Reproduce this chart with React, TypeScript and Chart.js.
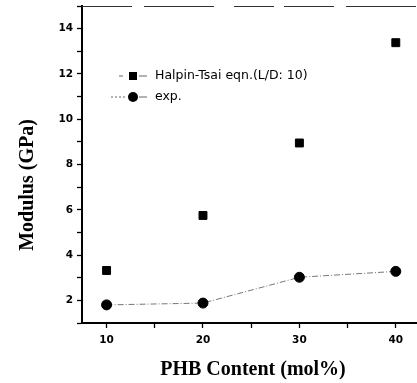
import React, { useEffect, useRef } from "react";
import { Chart, registerables } from "chart.js";

Chart.register(...registerables);

const phbContent = [10, 20, 30, 40];
const halpinTsai = [3.32, 5.75, 8.95, 13.38];
const experimental = [1.8, 1.88, 3.02, 3.28];
const seriesLabels = ["Halpin-Tsai eqn.(L/D: 10)", "exp."];
const xAxisTitle = "PHB Content (mol%)";
const yAxisTitle = "Modulus (GPa)";
const xTickValues = [10, 15, 20, 25, 30, 35, 40];
const xLabelEvery = 10;
const yLabelEvery = 2;
const X_MIN = 7.45;
const X_MAX = 42.2;

const TICK_FONT = { family: "'DejaVu Sans', sans-serif", size: 10.5, weight: "bold" as const };
const TITLE_FONT = "bold 20px 'Liberation Serif', 'Times New Roman', serif";
const LEGEND_FONT = "12.5px 'DejaVu Sans', sans-serif";

const decorPlugin = {
  id: "decor",
  beforeDatasetsDraw(chart: any) {
    const { ctx, chartArea } = chart;
    ctx.save();
    // faint broken top frame
    ctx.strokeStyle = "#333";
    ctx.lineWidth = 1.2;
    ctx.setLineDash([50, 12, 70, 20, 40, 10]);
    ctx.beginPath();
    ctx.moveTo(chartArea.left, chartArea.top + 0.5);
    ctx.lineTo(chartArea.right, chartArea.top + 0.5);
    ctx.stroke();
    ctx.restore();
  },
  afterDatasetsDraw(chart: any) {
    const { ctx, chartArea } = chart;
    const L = chartArea.left;
    const T = chartArea.top;
    ctx.save();
    // legend
    const mx = L + 51;
    const tx = L + 73;
    const rows = [T + 70, T + 91];
    // row 0: square
    ctx.strokeStyle = "#666";
    ctx.lineWidth = 1;
    ctx.setLineDash([]);
    ctx.beginPath();
    ctx.moveTo(mx - 14, rows[0]);
    ctx.lineTo(mx - 10, rows[0]);
    ctx.moveTo(mx + 6, rows[0]);
    ctx.lineTo(mx + 14, rows[0]);
    ctx.stroke();
    ctx.fillStyle = "#000";
    ctx.fillRect(mx - 4, rows[0] - 4, 8, 8);
    // row 1: circle
    ctx.setLineDash([2, 2]);
    ctx.beginPath();
    ctx.moveTo(mx - 22, rows[1]);
    ctx.lineTo(mx - 6, rows[1]);
    ctx.stroke();
    ctx.setLineDash([]);
    ctx.beginPath();
    ctx.moveTo(mx + 6, rows[1]);
    ctx.lineTo(mx + 14, rows[1]);
    ctx.stroke();
    ctx.beginPath();
    ctx.arc(mx, rows[1], 5, 0, Math.PI * 2);
    ctx.fill();
    ctx.font = LEGEND_FONT;
    ctx.textBaseline = "middle";
    ctx.textAlign = "left";
    ctx.fillStyle = "#000";
    ctx.fillText(seriesLabels[0], tx, rows[0]);
    ctx.fillText(seriesLabels[1], tx, rows[1]);

    // axis titles
    ctx.font = TITLE_FONT;
    ctx.textAlign = "center";
    ctx.textBaseline = "alphabetic";
    ctx.fillText(xAxisTitle, 253, 375);
    ctx.save();
    ctx.translate(33, 185);
    ctx.rotate(-Math.PI / 2);
    ctx.fillText(yAxisTitle, 0, 0);
    ctx.restore();
    ctx.restore();
  },
};

export default function App() {
  const ref = useRef<HTMLCanvasElement>(null);
  useEffect(() => {
    if (!ref.current) return;
    const chart = new Chart(ref.current, {
      type: "line",
      data: {
        datasets: [
          {
            label: seriesLabels[0],
            data: phbContent.map((x, i) => ({ x, y: halpinTsai[i] })),
            showLine: false,
            pointStyle: "rect",
            pointRadius: 5.6,
            pointBackgroundColor: "#000",
            pointBorderColor: "#000",
            borderColor: "#666",
          },
          {
            label: seriesLabels[1],
            data: phbContent.map((x, i) => ({ x, y: experimental[i] })),
            showLine: true,
            borderColor: "#777",
            borderWidth: 1,
            borderDash: [6, 2, 1, 2],
            pointStyle: "circle",
            pointRadius: 5,
            pointBackgroundColor: "#000",
            pointBorderColor: "#000",
            tension: 0,
          },
        ],
      },
      options: {
        responsive: false,
        animation: false,
        layout: { autoPadding: false, padding: { top: 6, left: 0, right: 0, bottom: 0 } },
        plugins: { legend: { display: false }, tooltip: { enabled: false } },
        scales: {
          x: {
            type: "linear",
            min: X_MIN,
            max: X_MAX,
            afterBuildTicks: (scale: any) => {
              scale.ticks = xTickValues.map((v) => ({ value: v }));
            },
            afterFit: (scale: any) => {
              scale.height = 60;
              scale.paddingLeft = 0;
              scale.paddingRight = 0;
            },
            ticks: {
              autoSkip: false,
              maxRotation: 0,
              padding: 6,
              color: "#000",
              font: TICK_FONT,
              callback: (v: any) => (Number(v) % xLabelEvery === 0 ? String(v) : ""),
            },
            grid: {
              drawOnChartArea: false,
              drawTicks: true,
              tickLength: 5,
              tickColor: "#000",
              tickWidth: 1.3,
            },
            border: { display: true, color: "#000", width: 2 },
          },
          y: {
            type: "linear",
            min: 1,
            max: 15,
            afterFit: (scale: any) => {
              scale.width = 82;
              scale.paddingTop = 0;
              scale.paddingBottom = 0;
            },
            ticks: {
              stepSize: 1,
              autoSkip: false,
              padding: 4,
              color: "#000",
              font: TICK_FONT,
              callback: (v: any) => (Number(v) % yLabelEvery === 0 && Number(v) > 1 ? String(v) : ""),
            },
            grid: {
              drawOnChartArea: false,
              drawTicks: true,
              tickLength: 5,
              tickColor: "#000",
              tickWidth: 1.3,
            },
            border: { display: true, color: "#000", width: 2 },
          },
        },
      },
      plugins: [decorPlugin],
    } as any);
    return () => chart.destroy();
  }, []);
  return (
    <div style={{ position: "fixed", left: 0, top: 0, width: 417, height: 383, background: "#fff" }}>
      <canvas ref={ref} width={417} height={383} style={{ display: "block" }} />
    </div>
  );
}
